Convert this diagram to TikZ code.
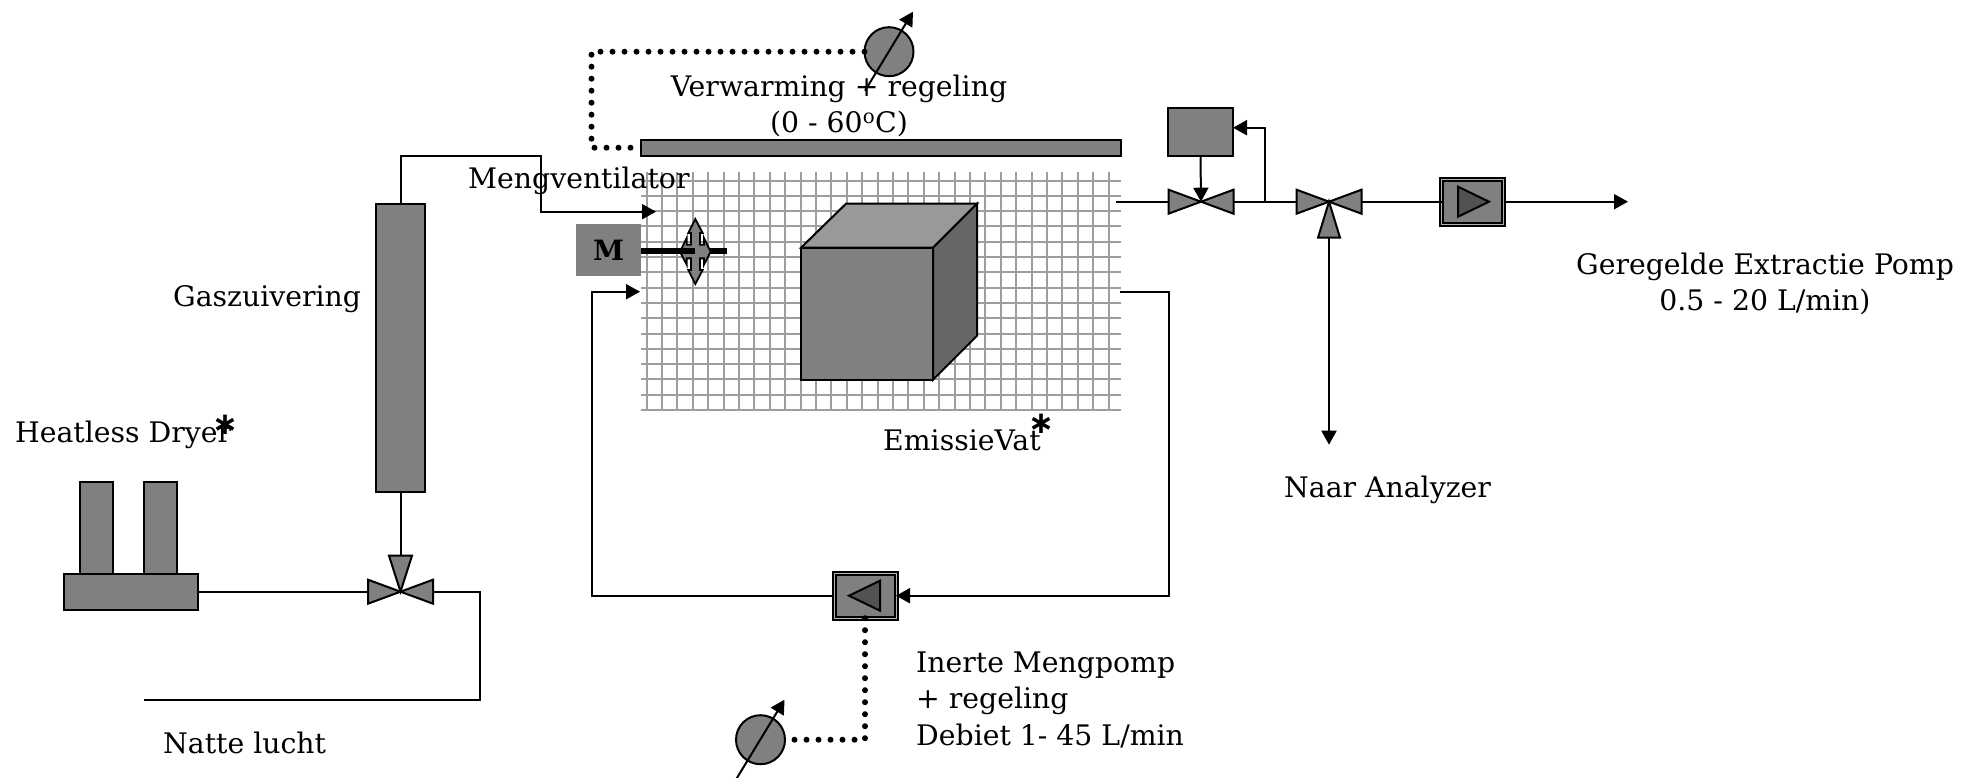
\documentclass[tikz,border=0pt]{standalone}
\usepackage{fontspec}
\setmainfont{DejaVu Serif}
\newfontfamily\starfont{DejaVu Sans}
\usetikzlibrary{arrows.meta}
\definecolor{unitgray}{gray}{0.5}
\definecolor{gridgray}{gray}{0.62}
\tikzset{
  x=1pt,y=-1pt,
  conn/.style={line width=2pt,line join=miter},
  flow/.style={conn,-{Triangle[length=14pt,width=15pt]}},
  dotline/.style={line width=6pt,line cap=round,dash pattern=on 0pt off 12pt},
  unit/.style={draw=black,line width=2pt,fill=unitgray,inner sep=0pt,outer sep=0pt},
  pumpbox/.style={unit,minimum width=62pt,minimum height=45pt,double=unitgray!60!white,double distance=1pt,line width=2pt},
  gridline/.style={draw=gridgray,line width=2pt},
  txt/.style={font=\fontsize{28.3}{36}\selectfont,inner sep=0pt,anchor=base west},
  ctxt/.style={font=\fontsize{28.3}{36}\selectfont,inner sep=0pt,anchor=base},
  star/.style={font=\starfont\bfseries\fontsize{31}{31}\selectfont,inner sep=0pt},
  valve/.pic={
    \draw[unit] (-32.5,-12) -- (0,0) -- (-32.5,12) -- cycle;
    \draw[unit] (32.5,-12) -- (0,0) -- (32.5,12) -- cycle;
    \coordinate (-l) at (-32.5,0);
    \coordinate (-r) at (32.5,0);
    \coordinate (-c) at (0,0);
  },
  dial/.pic={
    \draw[unit] (0,0) circle[radius=24.5pt];
    \draw[flow] (-24,39) -- (24,-40);
    \coordinate (-w) at (-24.5,0);
    \coordinate (-e) at (24.5,0);
  }
}
\begin{document}
\begin{tikzpicture}
\useasboundingbox (0,0) rectangle (1962,778);
% grid
\foreach \i in {0,...,30} \draw[gridline] ({round(646.6+15.4*\i)},172) -- ({round(646.6+15.4*\i)},411);
\foreach \i in {0,...,15} \draw[gridline] (641,{round(180.5+15.3*\i)}) -- (1121,{round(180.5+15.3*\i)});
% cube
\begin{scope}[yshift=-0.7pt]
\draw[unit,fill=black!40] (801,247) -- (846,203) -- (977,203) -- (933,247) -- cycle;
\draw[unit,fill=black!60] (933,247) -- (977,203) -- (977,335) -- (933,379) -- cycle;
\node[unit,minimum width=132pt,minimum height=132pt] (front) at (867,313) {};
% heater
\node[unit,minimum width=480pt,minimum height=16pt] (heater) at (881,147) {};
% regulator box, columns, dryer
\node[unit,minimum width=65pt,minimum height=48pt] (reg) at (1200.5,131) {};
\node[unit,minimum width=49pt,minimum height=288pt] (scrub) at (400.5,347) {};
\node[unit,minimum width=33pt,minimum height=92pt] (tower1) at (96.5,527) {};
\node[unit,minimum width=33pt,minimum height=92pt] (tower2) at (160.5,527) {};
\node[unit,minimum width=134pt,minimum height=36pt] (dryer) at (131,591) {};
% valves
\pic (v1) at (1201,201) {valve};
\pic (v2) at (1329,201) {valve};
\pic (v3) at (400.5,591) {valve};
\draw[unit] (1329,201) -- (1318,237) -- (1340,237) -- cycle;
\coordinate (v2b) at (1329,237);
\draw[unit] (400.5,591) -- (389,555) -- (412,555) -- cycle;
\coordinate (v3t) at (400.5,555);
% pumps
\node[pumpbox] (p1) at (1472.5,201) {};
\draw[unit,fill=black!68] (1458,186) -- (1489,201) -- (1458,216) -- cycle;
\node[pumpbox] (p2) at (865,595) {};
\draw[unit,fill=black!68] (880,580) -- (849,595) -- (880,610) -- cycle;
% free ends
\coordinate (gridin) at (1116,201);
\coordinate (outend) at (1628,201);
\coordinate (anaend) at (1329,444);
\coordinate (mixin) at (656,211);
\coordinate (retin) at (640,291);
\coordinate (retout) at (1120,291);
\coordinate (wet) at (144,699);
\coordinate (branch) at (1265,201);
% connectors
\draw[conn] (gridin) -- (v1-l);
\draw[conn] (v1-r) -- (v2-l);
\draw[conn] (v2-r) -- (p1.west);
\draw[flow] (p1.east) -- (outend);
\draw[flow] (reg.south) -- (v1-c);
\draw[flow] (branch) |- (reg.east |- 0,127);
\draw[flow] (v2b) -- (anaend);
\draw[conn] (dryer.east) -- (v3-l);
\draw[conn] (scrub.south) -- (v3t);
\draw[conn] (v3-r) -- (480,591) |- (wet);
\draw[flow] (scrub.north) |- (540.5,155) |- (mixin);
\draw[flow] (retout) -- (1169,291) |- (p2.east);
\draw[flow] (p2.west) -- (592,595) |- (retin);
% dials
\pic (d1) at (889,51) {dial};
\pic (d2) at (760.5,739) {dial};
\draw[dotline] (d1-w) -- (591.5,51) |- (heater.west);
\draw[dotline] (p2.south) |- (d2-e);
% motor
\node[fill=unitgray,minimum width=65pt,minimum height=52pt,inner sep=0pt,outer sep=0pt,font=\fontsize{28}{28}\selectfont\bfseries] (motor) at (608.5,249.5) {M};
\coordinate (shaftend) at (727,250.5);
\coordinate (shaftmid) at (695,250.5);
\draw[line width=6pt] (motor.east |- shaftend) -- (shaftend);
\begin{scope}[shift={(560,200)},x=0.3333pt,y=-0.3333pt]
\draw[draw=black,line width=1.8pt,fill=unitgray] (406,55)--(428,97)--(420,97)--(420,132)--(432,132)--(432,112)--(452,153)--(432,192)--(432,173)--(420,173)--(420,208)--(428,208)--(406,250)--(385,208)--(393,208)--(393,173)--(380,173)--(380,192)--(360,153)--(380,112)--(380,132)--(393,132)--(393,97)--(385,97)--cycle;
\end{scope}
\draw[line width=6pt] (motor.east |- shaftmid) -- (shaftmid);
\end{scope}
% texts
\node[ctxt] (t1) at (839,97) {Verwarming + regeling};
\node[ctxt] (t2) at (839,133) {(0 - 60\textsuperscript{o}C)};
\node[txt] (t3) at (468,189) {Mengventilator};
\node[txt] (t4) at (173,306) {Gaszuivering};
\node[txt] (t5) at (15,442) {Heatless Dryer};
\node[star] (s1) at (225,425) {∗};
\node[txt] (t6) at (883,450) {EmissieVat};
\node[star] (s2) at (1041,424) {∗};
\node[txt] (t7) at (163,753) {Natte lucht};
\node[txt] (t8) at (1284,497) {Naar Analyzer};
\node[ctxt] (t9) at (1765,274) {Geregelde Extractie Pomp};
\node[ctxt] (t10) at (1765,310) {0.5 - 20 L/min)};
\node[txt] (t11) at (916,672) {Inerte Mengpomp};
\node[txt] (t12) at (916,708) {+ regeling};
\node[txt] (t13) at (916,745) {Debiet 1- 45 L/min};
\end{tikzpicture}
\end{document}
